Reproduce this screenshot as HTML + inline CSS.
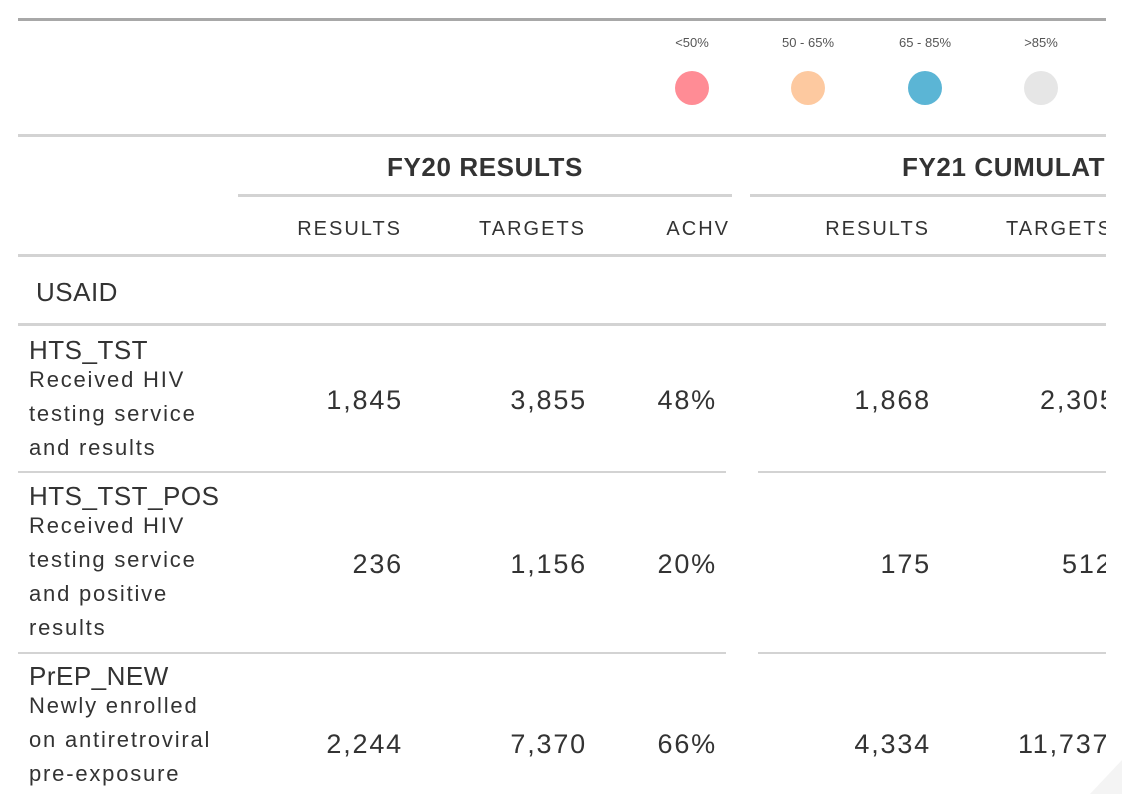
<!DOCTYPE html>
<html><head><meta charset="utf-8"><style>
body{margin:0;background:#fff;width:1122px;height:794px;overflow:hidden;font-family:"Liberation Sans",sans-serif;color:#333}
#wrap{position:absolute;left:0;top:0;width:1106px;height:794px;overflow:hidden}
.a{position:absolute;white-space:nowrap}
.ln{position:absolute;background:#d3d3d3}
.r{text-align:right}
.c{text-align:center}
.lg{font-size:13px;color:#555;width:80px;text-align:center}
.dot{position:absolute;width:34px;height:34px;border-radius:50%}
.col{font-size:20px;letter-spacing:2px;top:218px}
.num{font-size:27px;letter-spacing:1.8px}
.nm{font-size:26px;letter-spacing:0.5px}
.ds{font-size:22px;line-height:34px;letter-spacing:1.8px}
</style></head><body>
<div id="wrap">
<div class="ln" style="left:18px;top:18px;width:1100px;height:3px;background:#a8a8a8"></div>
<div class="a lg" style="left:652px;top:35px">&lt;50%</div>
<div class="a lg" style="left:768px;top:35px">50 - 65%</div>
<div class="a lg" style="left:885px;top:35px">65 - 85%</div>
<div class="a lg" style="left:1001px;top:35px">&gt;85%</div>
<div class="dot" style="left:675px;top:71px;background:#ff8c95"></div>
<div class="dot" style="left:791px;top:71px;background:#fdc9a0"></div>
<div class="dot" style="left:908px;top:71px;background:#5bb5d5"></div>
<div class="dot" style="left:1024px;top:71px;background:#e6e6e6"></div>
<div class="ln" style="left:18px;top:134px;width:1100px;height:3px"></div>
<div class="a c" style="left:238px;width:494px;top:152px;font-size:26px;font-weight:bold;letter-spacing:0.6px">FY20 RESULTS</div>
<div class="a" style="left:902px;top:152px;font-size:26px;font-weight:bold;letter-spacing:0.6px">FY21 CUMULATIVE</div>
<div class="ln" style="left:238px;top:194px;width:494px;height:3px"></div>
<div class="ln" style="left:750px;top:194px;width:400px;height:3px"></div>
<div class="a col r" style="right:704px">RESULTS</div>
<div class="a col r" style="right:520px">TARGETS</div>
<div class="a col r" style="right:376px">ACHV</div>
<div class="a col r" style="right:176px">RESULTS</div>
<div class="a col" style="left:1006px">TARGETS</div>
<div class="ln" style="left:18px;top:254px;width:1100px;height:3px"></div>
<div class="a" style="left:36px;top:277px;font-size:26px;letter-spacing:0.5px">USAID</div>
<div class="ln" style="left:18px;top:323px;width:1100px;height:3px"></div>

<div class="a nm" style="left:29px;top:335px">HTS_TST</div>
<div class="a ds" style="left:29px;top:363px">Received HIV<br>testing service<br>and results</div>
<div class="a num r" style="right:703px;top:385px">1,845</div>
<div class="a num r" style="right:519px;top:385px">3,855</div>
<div class="a num r" style="right:389px;top:385px">48%</div>
<div class="a num r" style="right:175px;top:385px">1,868</div>
<div class="a num" style="left:1040px;top:385px">2,305</div>
<div class="ln" style="left:18px;top:471px;width:708px;height:2px"></div>
<div class="ln" style="left:758px;top:471px;width:400px;height:2px"></div>

<div class="a nm" style="left:29px;top:481px">HTS_TST_POS</div>
<div class="a ds" style="left:29px;top:509px">Received HIV<br>testing service<br>and positive<br>results</div>
<div class="a num r" style="right:703px;top:549px">236</div>
<div class="a num r" style="right:519px;top:549px">1,156</div>
<div class="a num r" style="right:389px;top:549px">20%</div>
<div class="a num r" style="right:175px;top:549px">175</div>
<div class="a num" style="left:1062px;top:549px">512</div>
<div class="ln" style="left:18px;top:652px;width:708px;height:2px"></div>
<div class="ln" style="left:758px;top:652px;width:400px;height:2px"></div>

<div class="a nm" style="left:29px;top:661px">PrEP_NEW</div>
<div class="a ds" style="left:29px;top:689px">Newly enrolled<br>on antiretroviral<br>pre-exposure</div>
<div class="a num r" style="right:703px;top:729px">2,244</div>
<div class="a num r" style="right:519px;top:729px">7,370</div>
<div class="a num r" style="right:389px;top:729px">66%</div>
<div class="a num r" style="right:175px;top:729px">4,334</div>
<div class="a num" style="left:1018px;top:729px">11,737</div>
</div>
<svg style="position:absolute;left:1090px;top:760px" width="32" height="34"><polygon points="32,0 32,34 0,34" fill="#f4f4f4"/></svg>
</body></html>
